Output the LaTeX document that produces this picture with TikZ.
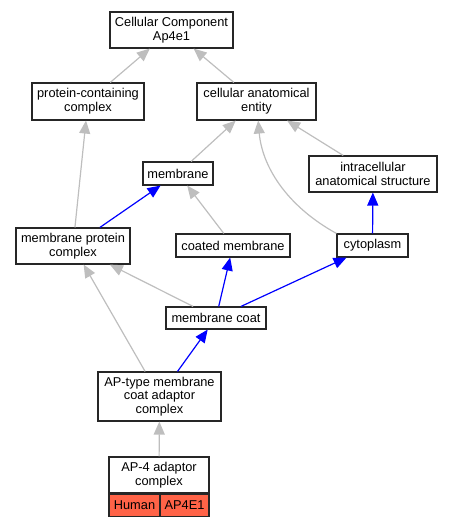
\documentclass[tikz,border=0pt]{standalone}
\usepackage{fontspec}
\setmainfont{Liberation Sans}
\usepackage{tikz}
\usetikzlibrary{arrows.meta,positioning}
\definecolor{edgegray}{HTML}{BEBEBE}
\definecolor{genered}{HTML}{FF6347}

\begin{document}
\begin{tikzpicture}[x=1pt,y=-1pt,
		term/.style={draw=black!85,line width=1.1pt,fill=white,align=center,inner sep=0pt,font=\fontsize{12.8}{13.8}\selectfont},
		cell/.style={term,fill=genered,minimum height=22pt},
		isa/.style={draw=edgegray,line width=1.2pt,-{Triangle[length=13pt,width=11pt]}},
		partof/.style={draw=blue,line width=1.2pt,-{Triangle[length=13pt,width=11pt]}}]
		\useasboundingbox (0,0) rectangle (453,525);
		\node[term,minimum width=123pt,minimum height=36pt] (cc) at (171.5,30) {Cellular Component\\Ap4e1};
		\node[term,minimum width=112pt,minimum height=37pt] (pcc) at (88,101.5) {protein-containing\\complex};
		\node[term,minimum width=119pt,minimum height=37pt] (cae) at (256.5,101.5) {cellular anatomical\\entity};
		\node[term,minimum width=128pt,minimum height=36pt] (ias) at (373,174) {intracellular\\anatomical structure};
		\node[term,minimum width=70pt,minimum height=23pt] (mem) at (178,173.5) {membrane};
		\node[term,minimum width=114pt,minimum height=36pt] (mpc) at (73,246) {membrane protein\\complex};
		\node[term,minimum width=114pt,minimum height=23pt] (cm) at (233,245.5) {coated membrane};
		\node[term,minimum width=71pt,minimum height=23pt] (cyt) at (372.5,245.5) {cytoplasm};
		\node[term,minimum width=100pt,minimum height=22pt] (mco) at (216,318) {membrane coat};
		\node[term,minimum width=123pt,minimum height=49pt] (apt) at (159.5,396.5) {AP-type membrane\\coat adaptor\\complex};
		\node[term,minimum width=100pt,minimum height=36pt] (ap4) at (159,475) {AP-4 adaptor\\complex};
		\node[cell,minimum width=51pt,anchor=north west] (human) at (ap4.south west) {Human};
		\node[cell,minimum width=49pt,anchor=north east] (gene) at (ap4.south east) {AP4E1};

		\draw[isa] (pcc) -- (cc);
		\draw[isa] (cae) -- (cc);
		\draw[isa] (mem) -- (cae);
		\draw[isa] (ias) -- (cae);
		\draw[isa] (cyt.north west) .. controls (285,205) and (262,165) .. (cae);
		\draw[isa] (mpc) -- (pcc);
		\draw[partof] (mpc) -- (mem);
		\draw[isa] (cm) -- (mem);
		\draw[partof] (cyt) -- (ias);
		\draw[isa] (mco) -- (mpc);
		\draw[partof] (mco) -- (cm);
		\draw[partof] (mco) -- (cyt);
		\draw[isa] (apt) -- (mpc);
		\draw[partof] (apt) -- (mco);
		\draw[isa] (ap4) -- (apt);
	\end{tikzpicture}
\end{document}
